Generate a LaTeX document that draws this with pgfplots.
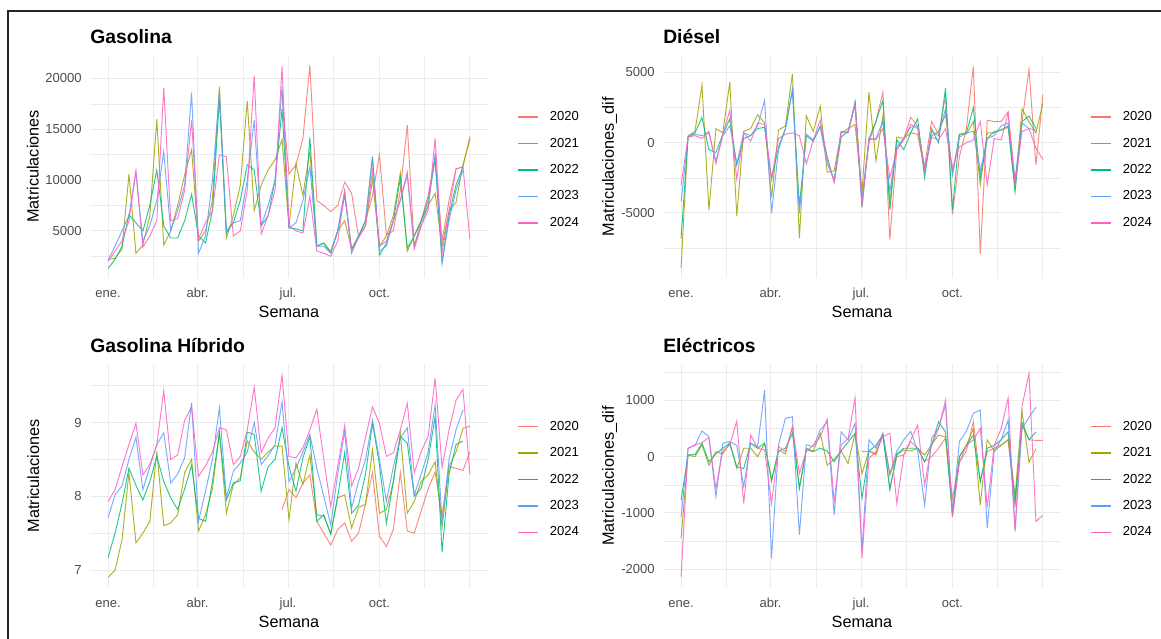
\documentclass[border=0pt]{standalone}
\usepackage{fontspec}
\setmainfont{Liberation Sans}
\usepackage{pgfplots}
\usepackage{pgfplotstable}
\pgfplotsset{compat=1.18}
\definecolor{c2020}{HTML}{F8766D}
\definecolor{c2021}{HTML}{A3A500}
\definecolor{c2022}{HTML}{00BF7D}
\definecolor{c2023}{HTML}{619CFF}
\definecolor{c2024}{HTML}{FF61C3}
\definecolor{gridc}{HTML}{EBEBEB}
\definecolor{tickc}{HTML}{4D4D4D}

\pgfplotstableread{
w a b c d e
0 nan 2200 1300 2100 2000
1 nan 2300 2200 3500 3000
2 nan 3200 3500 5000 4000
3 nan 10600 6600 6500 6000
4 nan 2800 5800 10800 10900
5 nan 3600 5000 4000 3400
6 nan 6500 7500 5500 4500
7 nan 16000 11000 8000 6000
8 nan 3600 5500 12800 19100
9 nan 5000 4300 5000 6000
10 nan 7500 4300 7000 6200
11 nan 10500 6000 9500 9000
12 nan 13000 8600 18600 15900
13 nan 4000 4500 2800 4200
14 nan 5000 3800 4500 5800
15 nan 8000 7000 10000 7000
16 nan 19200 18000 18700 12500
17 nan 4300 4800 5000 12300
18 nan 6500 5800 5800 4500
19 nan 9500 8000 6000 5000
20 nan 17800 11500 10000 9000
21 nan 7000 11000 15900 20300
22 nan 9500 5500 5500 4700
23 nan 11000 6500 7500 6500
24 nan 12000 10000 10000 9000
25 18000 14000 17000 19200 21200
26 10600 5500 5300 5300 5500
27 11500 11600 5200 5800 5000
28 14100 8500 5000 8000 4800
29 21300 12900 14200 11300 8400
30 8000 3500 3500 3500 3000
31 7500 3800 3800 3500 2800
32 6900 3000 2800 2800 2500
33 7500 5000 5000 5000 4000
34 9800 6000 8500 9000 8800
35 8700 3200 3200 2800 3000
36 4400 4500 4500 4500 4300
37 6000 5500 6000 6000 5500
38 8500 10000 12300 12300 11000
39 12500 3500 2600 3000 3500
40 4600 4500 3800 3500 4000
41 5000 6500 6000 6000 6000
42 9000 10700 10200 8000 8000
43 15400 3000 3300 10500 10800
44 3500 4500 4500 3500 3200
45 6000 6000 6000 5500 5500
46 8500 7500 8000 7500 7000
47 12300 8700 12000 12500 14100
48 4000 3500 1800 2000 2800
49 8000 7000 6500 6000 7000
50 11100 7800 9500 9000 11100
51 11300 11500 11300 11000 11300
52 14300 14000 nan nan 4200
}\gas

\pgfplotstableread{
w a b c d e
0 nan -8900 -6800 -4200 -3000
1 nan 500 400 400 400
2 nan 800 700 600 500
3 nan 4100 1800 500 300
4 nan -4800 -500 700 800
5 nan 1000 -700 -1300 -1500
6 nan 700 600 500 600
7 nan 4300 1700 1200 2300
8 nan -5200 -1600 -1500 -2600
9 nan 800 300 700 700
10 nan 1000 500 500 100
11 nan 2000 1000 1200 1400
12 nan 1400 1100 3000 1300
13 nan -3900 -2600 -5000 -2600
14 nan 900 -300 -500 300
15 nan 1200 1000 1000 600
16 nan 4900 3700 3800 700
17 nan -6800 -4500 -5000 500
18 nan 1900 500 600 -1500
19 nan 800 100 200 200
20 nan 2600 1200 1100 1600
21 nan -2100 -1000 -1500 -1200
22 nan -2000 -2800 -2600 -2800
23 nan 700 400 800 700
24 nan 1000 800 700 800
25 3000 1300 2900 2700 2700
26 -4000 -3500 -4600 -4000 -4500
27 0 3600 300 200 300
28 1500 -1300 1500 300 200
29 3600 1900 3000 1500 1000
30 -6900 -4300 -4800 -3500 -2500
31 -500 400 200 -300 -500
32 300 300 -500 300 200
33 1800 700 700 1100 1300
34 1200 600 1700 1200 1000
35 -1700 -2000 -2500 -2000 -1900
36 1500 500 1000 800 400
37 600 800 0 500 200
38 3300 2000 3900 2400 1000
39 -5100 -2200 -4800 -2300 -1800
40 -1000 600 600 400 -300
41 1000 600 700 700 0
42 5400 1500 2500 800 200
43 -7900 -3000 -2500 -2000 1500
44 1600 700 300 300 -3000
45 1500 700 800 500 300
46 1500 900 900 1200 200
47 2200 1100 1200 1400 2100
48 -2800 -3200 -3500 -2600 -3000
49 1500 2400 1500 1400 800
50 5200 1500 1900 1000 1000
51 -1600 700 1000 900 -400
52 3400 2800 nan nan -1200
}\die

\pgfplotstableread{
w a b c d e
0 nan 6.90 7.17 7.71 7.93
1 nan 7.00 7.50 8.02 8.09
2 nan 7.41 7.90 8.14 8.40
3 nan 8.32 8.38 8.50 8.70
4 nan 7.37 8.15 8.80 8.99
5 nan 7.50 7.95 8.09 8.29
6 nan 7.66 8.20 8.40 8.43
7 nan 8.61 8.54 8.70 8.70
8 nan 7.60 8.20 8.86 9.43
9 nan 7.64 7.98 8.18 8.50
10 nan 7.75 7.82 8.30 8.56
11 nan 8.32 8.10 8.52 9.03
12 nan 8.50 8.42 9.27 9.21
13 nan 7.53 7.70 7.66 8.27
14 nan 7.75 7.66 8.07 8.41
15 nan 8.10 8.20 8.50 8.60
16 nan 8.86 8.86 9.20 8.93
17 nan 7.77 7.95 7.98 8.90
18 nan 8.16 8.18 8.34 8.43
19 nan 8.25 8.21 8.45 8.54
20 nan 8.75 8.87 8.60 8.90
21 nan 8.60 8.84 9.00 9.48
22 nan 8.50 8.07 8.43 8.59
23 nan 8.60 8.40 8.55 8.79
24 nan 8.68 8.50 8.70 8.93
25 7.82 8.68 8.93 9.28 9.64
26 8.09 7.68 8.40 8.20 8.54
27 7.98 8.45 8.07 8.38 8.52
28 8.18 8.16 8.52 8.60 8.66
29 8.29 8.56 8.81 8.84 8.90
30 7.66 7.75 7.66 8.38 9.18
31 7.50 7.73 7.75 8.00 8.50
32 7.34 7.50 7.48 7.61 7.86
33 7.55 7.98 8.00 8.30 8.40
34 7.64 8.02 8.59 8.88 8.96
35 7.39 7.57 7.77 7.84 8.14
36 7.50 7.85 7.88 8.20 8.38
37 7.90 7.89 8.30 8.50 8.80
38 8.32 8.63 8.99 9.03 9.21
39 7.46 7.77 8.43 8.50 8.99
40 7.32 7.82 7.63 7.93 8.54
41 7.55 8.20 8.20 8.40 8.59
42 8.32 8.86 8.81 8.79 8.90
43 7.53 7.77 8.72 8.93 9.26
44 7.50 7.93 8.00 8.02 8.32
45 7.80 8.20 8.11 8.30 8.61
46 8.10 8.29 8.50 8.60 8.81
47 8.33 8.47 9.08 9.24 9.60
48 7.75 7.58 7.24 7.64 8.39
49 8.40 8.40 8.30 8.50 8.90
50 8.38 8.60 8.70 8.90 9.30
51 8.35 8.92 8.75 9.17 9.45
52 8.60 8.95 nan nan 8.30
}\hib

\pgfplotstableread{
w a b c d e
0 nan -1450 -770 -1070 -2130
1 nan 30 30 150 150
2 nan 0 40 200 210
3 nan 210 240 455 250
4 nan -150 -90 355 340
5 nan 90 50 -710 -560
6 nan 50 150 240 100
7 nan 240 240 270 210
8 nan -210 -180 200 630
9 nan 150 -210 -530 -830
10 nan 150 240 240 385
11 nan 0 150 180 150
12 nan 240 240 1180 120
13 nan -440 -410 -1800 -830
14 nan 120 100 210 180
15 nan 50 150 680 90
16 nan 530 415 710 530
17 nan -560 -560 -1390 -300
18 nan 150 120 210 100
19 nan 100 90 180 200
20 nan 415 150 475 350
21 nan -150 100 620 670
22 nan -50 -90 -1035 -800
23 nan 100 100 440 210
24 nan -120 260 300 320
25 nan 415 415 590 1050
26 90 -300 -740 -1650 -1800
27 100 100 100 300 -30
28 30 50 200 150 90
29 415 385 385 410 355
30 -560 -330 -590 -300 415
31 0 30 50 100 -830
32 30 120 150 300 30
33 270 100 150 450 300
34 150 150 150 100 560
35 -90 30 -90 -860 -500
36 0 210 200 330 200
37 150 385 620 500 500
38 330 350 440 920 1000
39 -740 -980 -1070 -980 -1070
40 -100 0 0 270 -100
41 100 200 200 450 200
42 620 500 385 770 300
43 -440 -860 -440 830 500
44 90 300 150 -1270 -900
45 150 100 200 100 200
46 210 200 300 300 500
47 300 300 440 650 1040
48 -900 -700 -800 -1300 -1330
49 560 800 600 500 900
50 300 -100 300 700 1480
51 290 140 440 880 -1150
52 290 nan nan nan -1040
}\ele

\pgfplotsset{
  panel/.style={
    scale only axis, width=298.5pt,
    xmin=-2.6, xmax=54.6,
    scaled y ticks=false, scaled x ticks=false,
    axis line style={draw=none},
    major tick length=0pt, minor tick length=0pt,
    tick style={draw=none},
    grid=both,
    major grid style={line width=0.75pt, color=gridc},
    minor grid style={line width=0.4pt, color=gridc},
    xtick={0,12.857,25.857,39}, xticklabels={ene.,abr.,jul.,oct.},
    minor xtick={6.43,19.36,32.43,45.5,51.86},
    tick label style={font=\fontsize{9.8}{11}\selectfont, color=tickc, inner sep=0pt},
    xticklabel style={anchor=base, yshift=-14.7pt},
    yticklabel style={anchor=east, xshift=-6pt},
    xlabel={Semana},
    xlabel style={font=\fontsize{12.2}{14}\selectfont, at={(axis description cs:0.5,0)}, anchor=base, yshift=-29.3pt},
    ylabel style={font=\fontsize{12.2}{14}\selectfont},
    every axis title shift=0pt,
    title style={font=\fontsize{14.5}{17}\selectfont\bfseries, at={(axis description cs:0,1)}, anchor=base west, yshift=8.6pt, inner sep=0pt},
    unbounded coords=jump,
    every axis plot/.append style={line width=0.7pt, opacity=0.85, mark=none},
    legend cell align=left,
    legend style={draw=none, fill=none, at={(axis description cs:1,0.5)}, anchor=west, xshift=21.9pt, yshift=-2.6pt,
      font=\fontsize{9.8}{11}\selectfont, row sep=11.5pt, column sep=8.25pt, inner sep=0pt,
      nodes={inner sep=0pt}},
    legend image code/.code={\draw[##1, opacity=1, line width=1.1pt] (0pt,0pt) -- (15pt,0pt);},
  }
}

\begin{document}
\begin{tikzpicture}
\useasboundingbox (0,0) rectangle (870.75pt,479.25pt);
\fill[white] (0,0) rectangle (870.75pt,479.25pt);
\draw[line width=0.9pt, color=black!85] (6pt,-1pt) -- (6pt,471pt) -- (872pt,471pt);

\begin{axis}[panel, at={(67.5pt,270.75pt)}, anchor=south west, height=167.25pt,
  ymin=364, ymax=22313,
  ytick={5000,10000,15000,20000}, yticklabels={5000,10000,15000,20000},
  minor ytick={2500,7500,12500,17500},
  ylabel={Matriculaciones},
  ylabel style={at={(axis description cs:-0.1434,0.5)}, anchor=center},
  title={Gasolina}]
\addplot[c2020] table[x=w,y=a]{\gas};
\addplot[c2021] table[x=w,y=b]{\gas};
\addplot[c2022] table[x=w,y=c]{\gas};
\addplot[c2023] table[x=w,y=d]{\gas};
\addplot[c2024] table[x=w,y=e]{\gas};
\legend{2020,2021,2022,2023,2024}
\end{axis}

\begin{axis}[panel, at={(497.25pt,270.75pt)}, anchor=south west, height=167.25pt,
  ymin=-9623, ymax=6237,
  ytick={-5000,0,5000}, yticklabels={-5000,0,5000},
  minor ytick={-7500,-2500,2500},
  ylabel={Matriculaciones\_dif},
  ylabel style={at={(axis description cs:-0.134,0.5)}, anchor=center},
  title={Diésel}]
\addplot[c2020] table[x=w,y=a]{\die};
\addplot[c2021] table[x=w,y=b]{\die};
\addplot[c2022] table[x=w,y=c]{\die};
\addplot[c2023] table[x=w,y=d]{\die};
\addplot[c2024] table[x=w,y=e]{\die};
\legend{2020,2021,2022,2023,2024}
\end{axis}

\begin{axis}[panel, at={(67.5pt,38.25pt)}, anchor=south west, height=168pt,
  ymin=6.757, ymax=9.793,
  ytick={7,8,9}, yticklabels={7,8,9},
  minor ytick={7.5,8.5,9.5},
  ylabel={Matriculaciones},
  ylabel style={at={(axis description cs:-0.1426,0.5)}, anchor=center},
  title={Gasolina Híbrido}]
\addplot[c2020] table[x=w,y=a]{\hib};
\addplot[c2021] table[x=w,y=b]{\hib};
\addplot[c2022] table[x=w,y=c]{\hib};
\addplot[c2023] table[x=w,y=d]{\hib};
\addplot[c2024] table[x=w,y=e]{\hib};
\legend{2020,2021,2022,2023,2024}
\end{axis}

\begin{axis}[panel, at={(497.25pt,38.25pt)}, anchor=south west, height=168pt,
  ymin=-2332, ymax=1646,
  ytick={-2000,-1000,0,1000}, yticklabels={-2000,-1000,0,1000},
  minor ytick={-1500,-500,500,1500},
  ylabel={Matriculaciones\_dif},
  ylabel style={at={(axis description cs:-0.134,0.5)}, anchor=center},
  title={Eléctricos}]
\addplot[c2020] table[x=w,y=a]{\ele};
\addplot[c2021] table[x=w,y=b]{\ele};
\addplot[c2022] table[x=w,y=c]{\ele};
\addplot[c2023] table[x=w,y=d]{\ele};
\addplot[c2024] table[x=w,y=e]{\ele};
\legend{2020,2021,2022,2023,2024}
\end{axis}
\end{tikzpicture}
\end{document}
